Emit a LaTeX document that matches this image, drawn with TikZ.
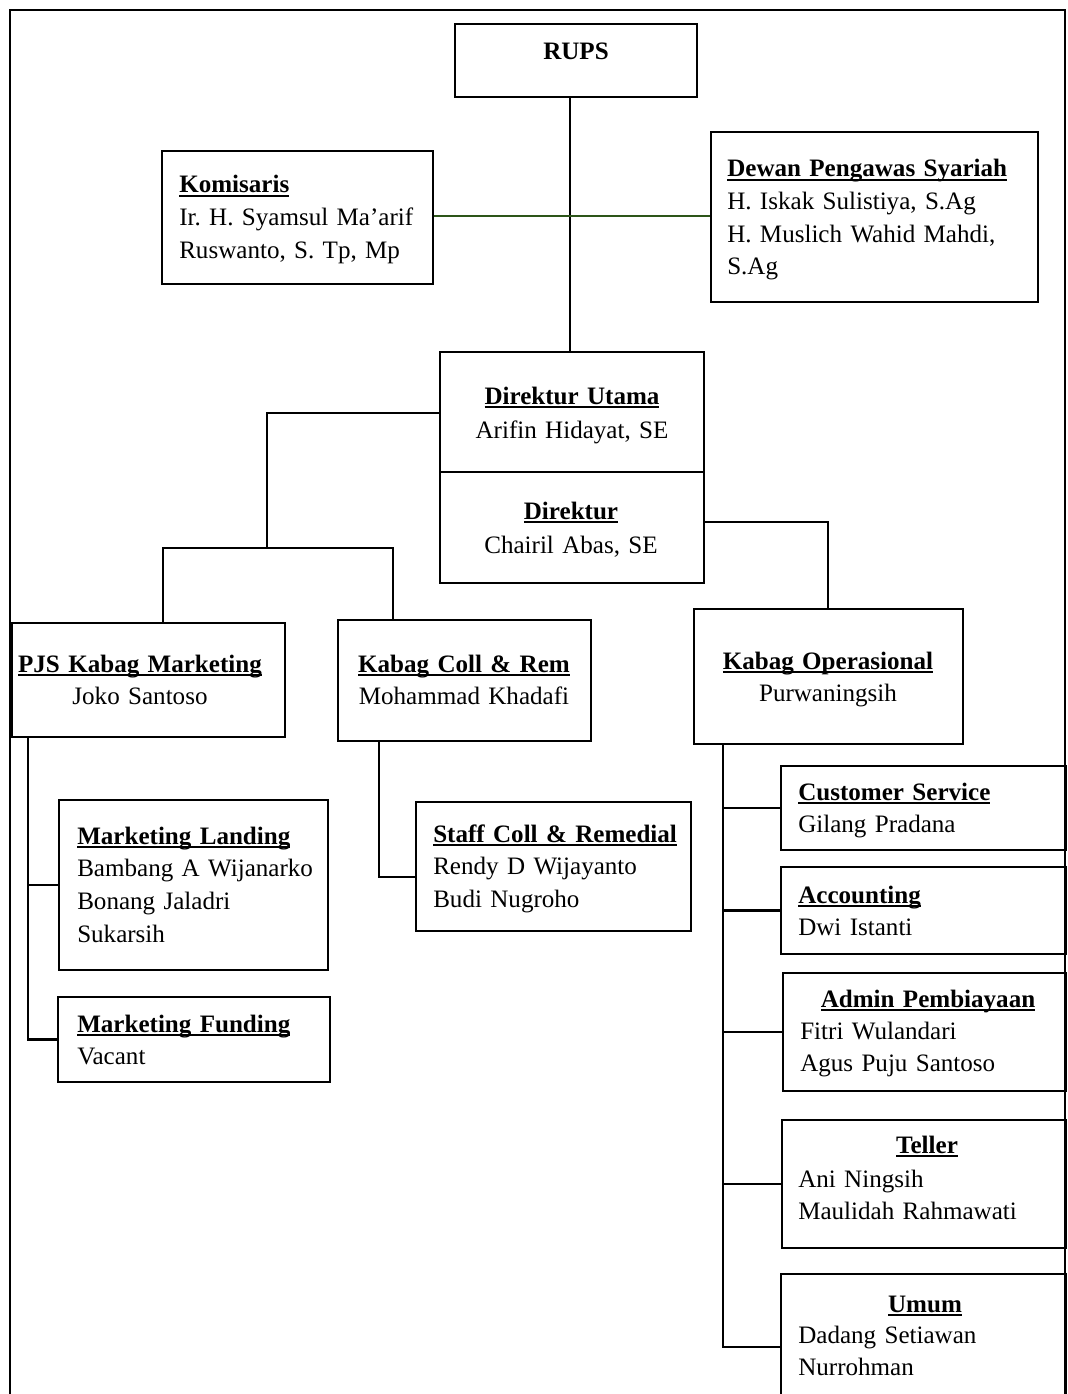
\documentclass[tikz,border=0pt]{standalone}
\usepackage{fontspec}
\setmainfont{Liberation Serif}
\usetikzlibrary{fit}
\definecolor{lnkgreen}{RGB}{45,85,25}
\newlength\hdw
\newcommand\hd[1]{\settowidth\hdw{\bfseries #1}{\bfseries\rlap{\rule[-2.8pt]{\hdw}{1.3pt}}#1}}
\frenchspacing
\begin{document}
\begin{tikzpicture}[x=0.75pt,y=-0.75pt,
  box/.style={draw,line width=1.7pt,inner sep=0pt},
  conn/.style={line width=2pt},
  txtl/.style={inner sep=0pt,anchor=base west,align=left,text width=235pt,font=\fontsize{18.8}{24.5}\selectfont\frenchspacing},
  txtc/.style={inner sep=0pt,anchor=base,align=center,text width=235pt,font=\fontsize{18.8}{24.5}\selectfont\frenchspacing}]
\useasboundingbox (0,0) rectangle (1067,1394);
\clip (0,0) rectangle (1067,1394);
% outer frame
\draw[line width=1.5pt] (10,1420) -- (10,10) -- (1065,10) -- (1065,1420);
% boxes
\node[box,fit={(455,24) (697,97)}] (rups) {};
\node[box,fit={(162,151) (433,284)}] (kom) {};
\node[box,fit={(711,132) (1038,302)}] (dps) {};
\node[box,fit={(440,352) (704,472)}] (du) {};
\node[box,fit={(440,472) (704,583)}] (dir) {};
\node[box,fit={(12,623) (285,737)}] (pjs) {};
\node[box,fit={(338,620) (591,741)}] (coll) {};
\node[box,fit={(694,609) (963,744)}] (kop) {};
\node[box,fit={(59,800) (328,970)}] (ml) {};
\node[box,fit={(58,997) (330,1082)}] (mf) {};
\node[box,fit={(416,802) (691,931)}] (staff) {};
\node[box,fit={(781,766) (1066,850)}] (cs) {};
\node[box,fit={(781,867) (1066,954)}] (acc) {};
\node[box,fit={(783,973) (1066,1091)}] (adm) {};
\node[box,fit={(782,1120) (1066,1248)}] (tel) {};
\node[box,fit={(781,1274) (1066,1420)}] (umum) {};
% texts
\node[txtc] (trups) at (576,60) {\bfseries RUPS};
\node[txtl] (tkom) at (179,193) {\hd{Komisaris}\\Ir. H. Syamsul Ma’arif\\Ruswanto, S. Tp, Mp};
\node[txtl] (tdps) at (727,177) {\hd{Dewan Pengawas Syariah}\\H. Iskak Sulistiya, S.Ag\\H. Muslich Wahid Mahdi,\\S.Ag};
\node[txtc] (tdu) at (572,404) {\hd{Direktur Utama}\\[1pt]Arifin Hidayat, SE};
\node[txtc] (tdir) at (571,519) {\hd{Direktur}\\[1pt]Chairil Abas, SE};
\node[txtc] (tpjs) at (140,672) {\hd{PJS Kabag Marketing}\\Joko Santoso};
\node[txtc] (tcoll) at (464,672) {\hd{Kabag Coll \& Rem}\\Mohammad Khadafi};
\node[txtc] (tkop) at (828,669) {\hd{Kabag Operasional}\\Purwaningsih};
\node[txtl] (tml) at (77,844) {\hd{Marketing Landing}\\Bambang A Wijanarko\\Bonang Jaladri\\Sukarsih};
\node[txtl] (tmf) at (77,1032) {\hd{Marketing Funding}\\Vacant};
\node[txtl] (tstaff) at (433,842) {\hd{Staff Coll \& Remedial}\\Rendy D Wijayanto\\Budi Nugroho};
\node[txtl] (tcs) at (798,800) {\hd{Customer Service}\\Gilang Pradana};
\node[txtl] (tacc) at (798,903) {\hd{Accounting}\\Dwi Istanti};
\node[txtc] (hadm) at (928,1007) {\hd{Admin Pembiayaan}};
\node[txtl] (tadm) at (800,1039) {Fitri Wulandari\\Agus Puju Santoso};
\node[txtc] (htel) at (927,1153) {\hd{Teller}};
\node[txtl] (ttel) at (798,1187) {Ani Ningsih\\Maulidah Rahmawati};
\node[txtc] (humum) at (925,1312) {\hd{Umum}};
\node[txtl] (tumum) at (798,1343) {Dadang Setiawan\\Nurrohman};
% helper coordinates
\coordinate (vx) at (570,0);
\coordinate (gy) at (0,216);
\coordinate (yl) at (0,413);
\coordinate (j1) at (267,548);
\coordinate (xa) at (163,0);
\coordinate (xb) at (393,0);
\coordinate (yr) at (0,522);
\coordinate (xo) at (828,0);
\coordinate (xm) at (28,0);
\coordinate (xc) at (379,0);
\coordinate (ys) at (0,877);
\coordinate (xk) at (723,0);
% connectors
\draw[conn] (rups.south -| vx) -- (du.north -| vx);
\draw[line width=2pt,lnkgreen] (kom.east |- gy) -- (dps.west |- gy);
\draw[conn] (du.west |- yl) -| (j1);
\draw[conn] (pjs.north -| xa) -- (xa |- j1) -- (xb |- j1) -- (coll.north -| xb);
\draw[conn] (dir.east |- yr) -| (kop.north -| xo);
\draw[conn] (pjs.south -| xm) |- (mf.west);
\draw[conn] (xm |- ml.west) -- (ml.west);
\draw[conn] (coll.south -| xc) |- (staff.west |- ys);
\draw[conn] (kop.south -| xk) |- (umum.west);
\draw[conn] (xk |- cs.west) -- (cs.west);
\draw[conn] (xk |- acc.west) -- (acc.west);
\draw[conn] (xk |- adm.west) -- (adm.west);
\draw[conn] (xk |- tel.west) -- (tel.west);
\end{tikzpicture}
\end{document}
